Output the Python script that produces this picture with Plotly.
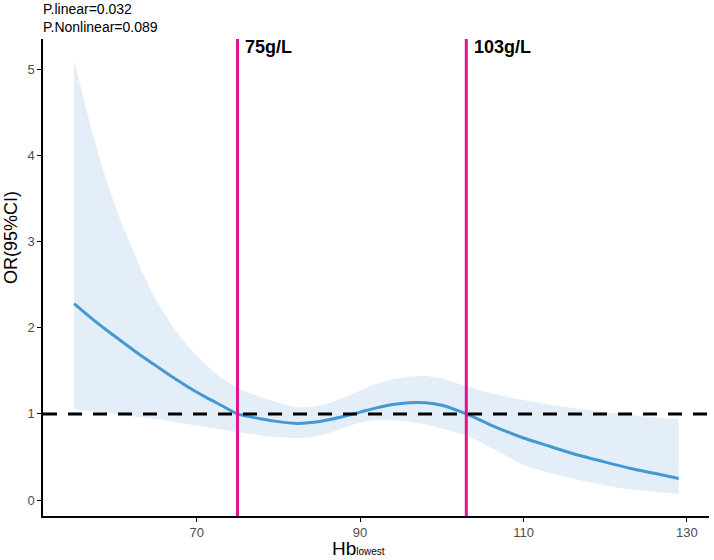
import plotly.graph_objects as go

hb = [55, 57, 59, 61, 63, 65, 67, 69, 71, 73, 75, 78, 80, 82, 84, 86, 88, 90, 92, 94,
      96, 98, 100, 103, 106, 110, 113, 116, 120, 123, 126, 129]
or_est = [2.28, 2.12, 1.97, 1.83, 1.69, 1.56, 1.43, 1.31, 1.20, 1.10, 1.00, 0.94, 0.91, 0.89,
          0.90, 0.93, 0.97, 1.02, 1.07, 1.11, 1.13, 1.13, 1.10, 1.00, 0.87, 0.72, 0.63, 0.54,
          0.44, 0.37, 0.31, 0.25]
or_upper = [5.10, 4.35, 3.70, 3.17, 2.72, 2.33, 2.02, 1.78, 1.58, 1.42, 1.30, 1.19, 1.13, 1.08,
            1.08, 1.12, 1.19, 1.27, 1.35, 1.40, 1.43, 1.44, 1.41, 1.32, 1.24, 1.16, 1.11, 1.07,
            1.02, 0.99, 0.96, 0.94]
or_lower = [1.05, 1.03, 1.01, 0.99, 0.96, 0.94, 0.91, 0.88, 0.85, 0.82, 0.79, 0.75, 0.73, 0.72,
            0.73, 0.77, 0.84, 0.90, 0.93, 0.93, 0.91, 0.88, 0.83, 0.75, 0.61, 0.41, 0.32, 0.25,
            0.17, 0.125, 0.095, 0.07]
cutoffs = [75, 103]
cutoff_labels = ["75g/L", "103g/L"]
x_ticks = [70, 90, 110, 130]
y_ticks = [0, 1, 2, 3, 4, 5]
ref_or = 1

FONT = "Liberation Sans, Arial, sans-serif"

fig = go.Figure()
fig.add_trace(go.Scatter(x=hb, y=or_lower, mode="lines",
                         line=dict(width=0, shape="spline", smoothing=0.6),
                         showlegend=False, hoverinfo="skip"))
fig.add_trace(go.Scatter(x=hb, y=or_upper, mode="lines",
                         line=dict(width=0, shape="spline", smoothing=0.6),
                         fill="tonexty", fillcolor="rgba(200,222,242,0.5)",
                         showlegend=False, hoverinfo="skip"))
fig.add_hline(y=ref_or, line=dict(color="black", width=3, dash="14px,11px"))
fig.add_trace(go.Scatter(x=hb, y=or_est, mode="lines",
                         line=dict(color="#4499d3", width=3, shape="spline", smoothing=0.6),
                         showlegend=False))
for c, lab in zip(cutoffs, cutoff_labels):
    fig.add_vline(x=c, line=dict(color="#e0148e", width=3))
    fig.add_annotation(x=c, y=1, yref="paper", text="<b>" + lab + "</b>", showarrow=False,
                       xanchor="left", yanchor="top", xshift=6, yshift=4,
                       font=dict(family=FONT, size=18, color="black"))

fig.add_annotation(x=0, y=1, xref="paper", yref="paper",
                   text="P.linear=0.032<br>P.Nonlinear=0.089", showarrow=False, align="left",
                   xanchor="left", yanchor="bottom", xshift=-2, yshift=2,
                   font=dict(family=FONT, size=14, color="black"))

# axis titles
fig.add_annotation(x=0, y=0.583, xref="paper", yref="paper", text="OR(95%CI)",
                   textangle=-90, showarrow=False, xanchor="center", yanchor="middle",
                   xshift=-32, font=dict(family=FONT, size=18, color="black"))
fig.add_annotation(x=0.473, y=0, xref="paper", yref="paper",
                   text="Hb<span style='font-size:10px'>lowest</span>",
                   showarrow=False, xanchor="center", yanchor="middle", yshift=-32,
                   font=dict(family=FONT, size=19, color="black"))

axis_common = dict(showline=True, linecolor="black", linewidth=1.5, ticks="outside",
                   ticklen=4, tickcolor="black", tickwidth=1.2, showgrid=False, zeroline=False,
                   tickfont=dict(family=FONT, size=13, color="#4d4d4d"))
fig.update_xaxes(range=[51.2, 132.7], tickvals=x_ticks, **axis_common)
fig.update_yaxes(range=[-0.185, 5.35], tickvals=y_ticks, **axis_common)
fig.update_layout(width=714, height=560, margin=dict(l=43, r=5, t=39, b=44),
                  plot_bgcolor="white", paper_bgcolor="white",
                  font=dict(family=FONT))
fig.write_html("out.html")
